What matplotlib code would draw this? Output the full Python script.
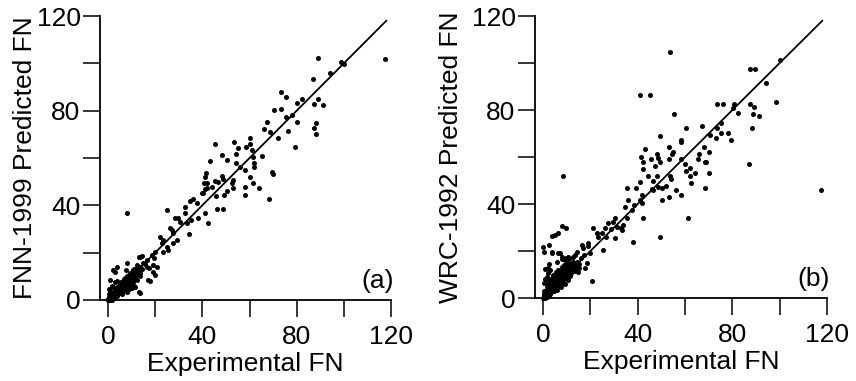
import matplotlib
matplotlib.use("Agg")
import matplotlib.pyplot as plt

plt.rcParams["font.family"] = ["Liberation Sans", "DejaVu Sans"]

# panel (a): FNN-1999 predicted vs experimental
exp_a = [
    117.5, 89.2, 98.9, 100.0, 94.0, 87.0, 73.2, 75.4, 82.1, 80.0, 89.2, 87.5, 91.0,
    70.4, 73.2, 77.9, 75.5, 67.3, 80.0, 88.2, 66.2, 87.4, 76.2, 68.7, 88.2, 72.1,
    79.3, 45.2, 53.6, 60.2, 60.2, 55.3, 58.4, 54.3, 48.2, 61.2, 65.2, 61.6, 43.3,
    50.3, 54.3, 62.0, 62.0, 56.0, 58.1, 69.4, 69.8, 60.2, 41.1, 48.2, 48.9, 45.4,
    46.8, 40.7, 53.1, 52.4, 61.4, 41.8, 44.3, 53.1, 50.3, 58.1, 64.2, 40.4, 45.9,
    49.0, 58.1, 68.3, 46.3, 48.6, 41.0,
    8.2, 24.9, 41.6, 42.1, 41.1, 39.7, 36.2, 34.8, 37.6, 32.7, 29.5, 28.5, 32.7,
    30.5, 33.6, 35.0, 38.3, 42.3, 34.5, 26.3, 27.0, 27.7, 29.4, 27.4, 25.6, 23.5,
    22.0, 23.5, 22.8, 24.9, 19.9, 18.5, 19.3, 16.4, 15.0, 13.6, 19.2, 20.6, 17.5,
    19.2, 19.9, 17.1, 12.2, 13.6, 10.7, 3.7, 2.2, 7.9, 0.8, 11.4, 10.0,
    2.9, 13.3, 14.3, 7.5, 10.5, 17.8, 13.0, 13.6,
    0.2, 0.5, 0.8, 1.0, 1.2, 1.5, 1.8, 2.0, 2.2, 2.5, 2.8, 3.0, 3.0, 3.2, 3.5, 3.5,
    3.8, 4.0, 4.0, 4.2, 4.5, 4.5, 4.8, 5.0, 5.0, 5.2, 5.5, 5.5, 5.8, 6.0, 6.0, 6.2,
    6.5, 6.5, 6.8, 7.0, 7.0, 7.2, 7.5, 7.5, 7.8, 8.0, 8.0, 8.2, 8.5, 8.5, 8.8, 9.0,
    9.0, 9.2, 9.5, 9.5, 9.8, 10.0, 10.0, 10.2, 10.5, 10.5, 10.8, 11.0, 11.0, 11.2,
    11.5, 11.5, 12.0, 12.0, 12.5, 12.8, 13.0, 13.5, 13.5, 6.0, 8.0, 3.0, 2.0, 1.0,
    0.5, 0.3, 1.5, 4.0, 9.0, 11.0, 12.5, 14.5, 15.5, 16.5, 0.0, 0.6, 1.5, 2.5,
    0.5, 1.0, 1.5, 2.0, 2.5, 3.0, 3.5, 4.0, 4.5, 5.0, 5.5, 6.0, 6.5, 7.0, 7.5, 8.0,
    8.5, 9.0, 9.5, 10.0, 10.5, 11.0, 11.5, 12.0, 7.8, 6.8, 5.8, 4.8, 3.8, 2.8, 1.8,
    0.8, 9.8, 8.8, 7.2, 6.2, 5.2, 4.2, 3.2, 2.2, 1.2, 10.5, 11.8, 12.5, 13.0, 9.0,
    8.0, 7.0, 6.0, 5.0,
    1.0, 2.0, 3.0, 4.0, 5.0, 6.0, 7.0, 8.0, 9.0, 10.0, 11.0, 1.5, 2.5, 3.5, 4.5,
    5.5, 6.5, 7.5, 8.5, 9.5, 10.5, 11.5, 12.0, 0.3, 0.8,
]
pred_a = [
    102.0, 102.4, 100.7, 99.6, 95.8, 93.4, 88.0, 85.9, 84.9, 83.4, 84.8, 82.8, 82.4,
    80.3, 80.6, 78.2, 77.2, 75.3, 75.1, 74.6, 72.2, 72.5, 71.4, 70.8, 70.0, 68.6,
    64.5, 66.0, 66.9, 68.3, 65.9, 64.1, 64.8, 61.7, 61.3, 63.4, 60.8, 60.5, 58.9,
    59.1, 57.7, 58.0, 56.3, 56.3, 54.9, 54.2, 53.3, 52.1, 52.1, 52.4, 51.0, 50.4,
    49.7, 49.6, 50.7, 49.3, 49.6, 47.2, 47.7, 47.2, 46.2, 47.9, 47.2, 45.1, 44.0,
    44.2, 44.2, 42.5, 38.3, 38.3, 36.9,
    36.9, 38.0, 53.5, 49.3, 46.8, 45.1, 42.5, 42.0, 40.8, 39.4, 34.5, 34.5, 36.6,
    33.1, 32.7, 33.8, 34.5, 32.7, 27.9, 30.3, 29.6, 28.2, 25.3, 23.9, 21.1, 20.4,
    26.7, 25.3, 23.9, 22.5, 20.4, 19.0, 17.6, 16.9, 15.5, 18.3, 14.8, 14.1, 13.4,
    12.0, 10.6, 8.4, 14.8, 11.3, 12.7, 14.1, 12.7, 15.5, 8.4, 5.6, 5.0,
    12.0, 18.3, 18.7, 12.7, 9.6, 7.9, 3.5, 2.8,
    0.5, 1.2, 0.3, 2.0, 1.0, 2.8, 1.5, 0.8, 3.5, 2.2, 4.0, 1.8, 3.0, 5.0, 2.5, 4.2,
    3.3, 5.5, 1.5, 4.5, 3.0, 6.0, 5.0, 3.8, 6.8, 4.5, 5.5, 7.5, 3.5, 6.2, 4.8, 8.0,
    5.5, 7.0, 8.8, 6.0, 4.5, 7.8, 9.0, 6.8, 5.5, 8.0, 10.0, 7.0, 9.2, 5.8, 8.5, 10.5,
    7.5, 11.5, 9.0, 6.5, 10.2, 8.2, 12.0, 11.0, 9.5, 7.5, 12.5, 10.5, 8.8, 13.0,
    11.8, 9.8, 12.5, 10.5, 11.5, 13.5, 12.0, 10.0, 14.0, 2.5, 3.5, 7.5, 5.5, 3.5,
    2.5, 4.5, 6.0, 8.0, 4.5, 6.0, 8.5, 13.0, 15.0, 14.0, 0.0, 0.0, 0.2, 1.0,
    0.0, 0.5, 1.5, 2.0, 1.5, 2.2, 3.5, 3.0, 4.0, 5.0, 4.2, 5.5, 6.2, 7.0, 6.0, 7.5,
    8.0, 8.8, 8.0, 10.0, 10.8, 9.5, 10.5, 11.5, 8.5, 7.5, 6.5, 5.8, 4.8, 3.2, 2.5,
    1.5, 11.0, 9.8, 9.5, 7.0, 6.2, 3.8, 3.8, 2.8, 0.5, 11.5, 12.0, 12.5, 13.0, 9.5,
    9.0, 8.2, 7.0, 4.2,
    1.3, 2.4, 3.4, 4.6, 5.4, 6.6, 7.6, 8.4, 9.6, 10.6, 11.6, 1.0, 2.0, 3.0, 4.0,
    5.0, 6.0, 7.0, 8.0, 9.0, 10.0, 11.0, 13.0, 0.8, 0.2,
]

# panel (b): WRC-1992 predicted vs experimental
exp_b = [
    53.7, 87.5, 89.6, 100.1, 94.2, 98.3, 117.3, 41.0, 45.2, 73.4, 76.2, 80.8, 80.1,
    87.5, 89.3, 82.2, 88.6, 91.3, 88.3, 87.2, 55.2, 60.4, 67.2, 75.2, 73.4, 70.6,
    75.2, 73.0, 78.2, 79.3, 49.3, 58.2, 58.2, 68.2, 70.3, 66.0, 68.4, 69.0, 65.4,
    70.3, 68.3, 61.4, 43.2, 53.4, 55.1, 54.6, 48.3, 41.4, 42.4, 45.6, 48.7, 49.3,
    42.1, 47.3, 53.2, 58.3, 60.0, 62.1, 64.2, 60.4, 62.1, 62.4, 44.5, 48.3, 53.7,
    54.1, 46.3, 41.0, 52.0, 48.7, 45.9, 46.6, 50.1, 56.2, 58.3, 53.4, 50.1, 41.0,
    41.7, 42.4, 49.3,
    8.6, 7.9, 9.7, 6.2, 3.9, 2.5, 0.1, 0.5, 3.7, 6.5, 10.7, 7.9, 9.3, 2.5, 2.3,
    0.9, 1.6, 1.9, 20.6, 21.0, 16.3, 14.2, 19.1, 19.8, 14.9, 15.2, 25.5, 23.4,
    22.7, 26.6, 26.2, 27.3, 30.4, 29.4, 31.1, 28.9, 33.9, 33.0, 33.5, 35.4, 34.6,
    36.0, 38.6, 37.4, 41.7, 39.3, 35.4, 38.2, 30.4, 24.8, 18.5, 17.7,
    5.0, 3.7, 7.2, 13.5, 19.1, 17.0,
    0.2, 0.5, 0.8, 1.0, 1.2, 1.5, 1.8, 2.0, 2.0, 2.5, 2.8, 3.0, 3.0, 3.2, 3.5, 3.5,
    3.8, 4.0, 4.0, 4.2, 4.5, 4.5, 4.8, 5.0, 5.0, 5.2, 5.5, 5.5, 5.8, 6.0, 6.0, 6.2,
    6.5, 6.5, 6.8, 7.0, 7.0, 7.2, 7.5, 7.5, 7.8, 8.0, 8.0, 8.2, 8.5, 8.5, 8.8, 9.0,
    9.0, 9.2, 9.5, 9.5, 9.8, 10.0, 10.0, 10.2, 10.5, 10.5, 10.8, 11.0, 11.0, 11.5,
    11.5, 12.0, 12.0, 12.5, 12.8, 13.0, 13.5, 14.0, 14.5, 15.0, 1.0, 2.0, 3.0, 0.5,
    0.3, 1.5, 2.5, 0.0, 0.6, 6.0, 8.0, 9.5, 11.0, 12.5, 16.0, 17.5,
    0.5, 1.0, 1.5, 2.0, 2.5, 3.0, 3.5, 4.0, 4.5, 5.0, 5.5, 6.0, 6.5, 7.0, 7.5, 8.0,
    8.5, 9.0, 9.5, 10.0, 10.5, 11.0, 11.5, 12.0, 12.5, 13.0, 13.5, 14.0, 7.8, 6.8,
    5.8, 4.8, 3.8, 2.8, 1.8, 0.8, 9.8, 8.8, 7.2, 6.2, 5.2, 4.2, 3.2, 2.2, 1.2, 10.5,
    11.8, 12.5, 9.0, 8.0,
    1.0, 2.0, 3.0, 4.0, 5.0, 6.0, 7.0, 8.0, 9.0, 10.0, 11.0, 12.0, 1.5, 2.5, 3.5,
    4.5, 5.5, 6.5, 7.5, 8.5, 9.5, 10.5, 11.5, 0.3, 0.8,
]
pred_b = [
    104.7, 97.6, 97.6, 101.3, 91.6, 83.5, 46.0, 86.4, 86.4, 82.6, 82.6, 82.6, 80.7,
    82.6, 81.4, 78.6, 78.3, 77.4, 72.3, 57.0, 78.3, 72.3, 73.2, 74.3, 72.2, 69.4,
    70.3, 68.2, 70.3, 67.2, 69.1, 67.2, 66.3, 64.1, 62.3, 61.1, 58.0, 58.0, 59.1,
    53.1, 46.9, 33.9, 63.3, 64.1, 62.3, 61.1, 61.1, 60.1, 58.0, 59.0, 59.5, 58.0,
    54.9, 56.2, 59.0, 59.0, 57.0, 55.2, 53.1, 54.2, 52.0, 48.8, 51.9, 51.9, 51.9,
    50.5, 49.9, 49.5, 47.8, 47.4, 46.3, 46.0, 46.9, 46.0, 43.8, 42.8, 41.7, 41.7,
    40.3, 33.9, 25.8,
    51.9, 30.6, 29.7, 27.5, 26.4, 22.6, 21.8, 19.7, 19.3, 19.3, 17.6, 17.6, 16.2,
    14.5, 12.8, 12.3, 9.1, 7.6, 7.4, 29.7, 22.6, 19.7, 22.1, 19.3, 11.2, 12.8,
    20.4, 26.1, 27.5, 26.1, 29.7, 31.8, 33.9, 32.4, 30.3, 29.2, 31.1, 29.7, 28.8,
    33.9, 38.9, 41.7, 39.6, 37.5, 43.8, 46.9, 46.9, 24.0, 25.4, 27.5, 14.8, 12.8,
    26.8, 19.7, 19.0, 18.3, 23.3, 21.4,
    0.5, 1.5, 0.2, 3.0, 1.2, 4.5, 2.0, 0.8, 6.0, 3.2, 5.0, 1.5, 7.5, 4.0, 2.5, 6.0,
    8.5, 3.5, 5.5, 10.0, 4.5, 7.0, 2.8, 6.0, 9.0, 4.0, 7.5, 11.0, 5.2, 8.5, 3.5, 10.0,
    6.5, 12.0, 5.0, 9.0, 7.0, 11.0, 4.5, 8.2, 13.0, 6.5, 10.5, 9.0, 12.0, 7.5, 14.0,
    9.5, 11.5, 6.0, 10.0, 13.0, 8.5, 11.0, 15.0, 9.5, 12.5, 7.5, 10.5, 13.5, 11.8,
    9.5, 14.5, 12.0, 10.5, 13.0, 15.5, 11.5, 14.0, 13.0, 15.5, 14.5, 8.0, 10.5, 12.0,
    6.5, 3.0, 0.3, 0.8, 0.0, 0.0, 15.5, 16.5, 17.0, 16.5, 17.5, 17.0, 18.5,
    0.0, 0.8, 1.8, 2.5, 1.8, 3.0, 4.5, 3.2, 5.5, 4.8, 6.0, 7.0, 5.5, 8.0, 7.0, 8.5,
    9.5, 8.5, 11.0, 10.0, 11.5, 10.0, 12.5, 13.5, 11.5, 14.0, 12.5, 15.0, 9.8, 8.5,
    7.5, 6.5, 5.2, 3.8, 2.8, 2.0, 12.0, 11.0, 10.0, 9.0, 8.0, 6.8, 5.5, 4.0, 2.5, 13.5,
    11.0, 14.5, 12.5, 12.0,
    1.5, 2.8, 4.0, 5.0, 6.2, 7.5, 8.2, 9.2, 10.2, 11.2, 12.2, 13.0, 1.0, 2.0, 3.0,
    4.0, 5.2, 6.0, 7.0, 8.0, 9.0, 10.0, 11.0, 1.0, 0.3,
]

panels = [
    (exp_a, pred_a, "FNN-1999 Predicted FN", "(a)", 0),
    (exp_b, pred_b, "WRC-1992 Predicted FN", "(b)", 6),
]
ticks = [0, 20, 40, 60, 80, 100, 120]
tick_labels = ["0", "", "40", "", "80", "", "120"]
fit_line = [0, 118]
FS = 19


def style_axes(ax, ylabel, tag, ypad):
    ax.set_xlim(-3.4, 120)
    ax.set_ylim(0, 120)
    ax.spines["top"].set_visible(False)
    ax.spines["right"].set_visible(False)
    for side in ("left", "bottom"):
        ax.spines[side].set_linewidth(1.3)
    ax.set_xticks(ticks, tick_labels)
    ax.set_yticks(ticks, tick_labels)
    ax.tick_params(direction="out", length=12, width=1.1, labelsize=FS, pad=2)
    ax.tick_params(axis="x", pad=6)
    ax.set_xlabel("Experimental FN", fontsize=FS, labelpad=2)
    ax.set_ylabel(ylabel, fontsize=FS, labelpad=ypad)
    ax.text(121, 8, tag, ha="right", va="center", fontsize=FS)


fig = plt.figure(figsize=(8.56, 3.81), dpi=100)
positions = [[0.1168, 0.2126, 0.340, 0.7454], [0.625, 0.2178, 0.3411, 0.740]]

for pos, (xs, ys, ylabel, tag, ypad) in zip(positions, panels):
    ax = fig.add_axes(pos)
    ax.plot(fit_line, fit_line, color="black", lw=1.3)
    ax.scatter(xs, ys, s=13, color="black", linewidths=0, clip_on=False, zorder=3)
    style_axes(ax, ylabel, tag, ypad)

fig.savefig("out.png", dpi=100)
